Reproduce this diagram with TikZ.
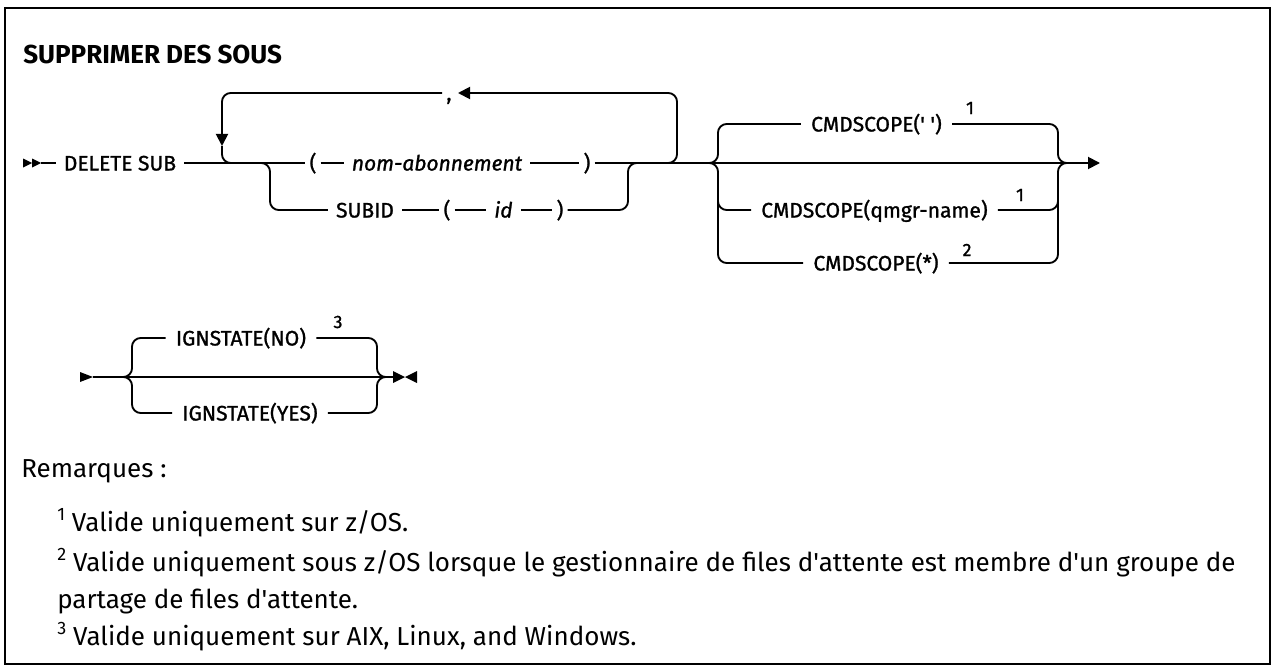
\documentclass[tikz,border=0pt]{standalone}
\usepackage{fontspec}
\newfontfamily\plex{Fira Sans}
\newfontfamily\plexd{Fira Sans}[FakeBold=1.2]
\usetikzlibrary{arrows.meta,calc}
\newcommand{\dgsz}{\plexd\fontsize{15.75pt}{18pt}\selectfont}
\newcommand{\ntsz}{\plex\fontsize{19.5pt}{24pt}\selectfont}
\newcommand{\fnsz}{\plexd\fontsize{13.5pt}{15pt}\selectfont}
\newcommand{\fnum}[1]{\raisebox{0.42em}{\fontsize{13.5pt}{14pt}\selectfont #1}}
\begin{document}
\begin{tikzpicture}[x=0.75pt,y=-0.75pt,
  rail/.style={line width=1.4pt, rounded corners=6.5pt},
  railtip/.style={rail, -{Triangle[length=9pt,width=9pt]}},
  tok/.style={inner xsep=6pt, inner ysep=0pt, text height=11.25pt, text depth=0pt, font=\dgsz},
  par/.style={tok, inner xsep=3pt},
  var/.style={tok, font=\dgsz\itshape},
  opt/.style={tok, inner xsep=7.5pt},
  fn/.style={inner sep=0pt, font=\fnsz},
  note/.style={anchor=base west, inner sep=0pt, font=\ntsz}]
\useasboundingbox (0,0) rectangle (1272,667);
\draw[line width=1.5pt] (5,8) rectangle (1270,664);

\node[anchor=west, inner sep=0pt, font=\plex\bfseries\fontsize{19.5pt}{24pt}\selectfont] (title) at (23,54) {SUPPRIMER DES SOUS};

% ---------- row 1 ----------
\coordinate (s1) at (23,163);
\coordinate (s1e) at (41,163);
\fill (23,158.5) -- (32,163) -- (23,167.5) -- cycle;
\fill (32,158.5) -- (41,163) -- (32,167.5) -- cycle;
\node[tok] (del) at (120,163) {DELETE SUB};
\node[par] (lp1) at (313,163) {(};
\node[var] (nom) at (437,163) {nom-abonnement};
\node[par] (rp1) at (587,163) {)};
\coordinate (e1) at (1100,163);
\draw[rail] (s1e) -- (del.west);
\draw[rail] (del.east) -- (lp1.west);
\draw[rail] (lp1.east) -- (nom.west);
\draw[rail] (nom.east) -- (rp1.west);
\draw[railtip] (rp1.east) -- (e1);

% repeat loop
\coordinate (L0) at (234,163);
\coordinate (L1) at (222,163);
\coordinate (L2) at (222,93);
\coordinate (L3) at (677,93);
\coordinate (L4) at (677,163);
\coordinate (L5) at (665,163);
\coordinate (La) at (222,146);
\coordinate (Lb) at (458,93);
\node[par] (comma) at (449,93) {,};
\draw[railtip] (L5) -- (L4) -- (L3) -- (Lb);
\draw[railtip] (comma.west) -- (L2) -- (La);
\draw[rail] (La) -- (L1) -- (L0);

% SUBID branch
\coordinate (B0) at (260,163);
\coordinate (B1) at (270,163);
\coordinate (B2) at (270,210);
\coordinate (B3) at (628,210);
\coordinate (B4) at (628,163);
\coordinate (B5) at (638,163);
\node[tok] (subid) at (365,210) {SUBID};
\node[par] (lp2) at (447,210) {(};
\node[var] (id) at (503.5,210) {id};
\node[par] (rp2) at (560,210) {)};
\draw[rail] (B0) -- (B1) -- (B2) -- (subid.west);
\draw[rail] (subid.east) -- (lp2.west);
\draw[rail] (lp2.east) -- (id.west);
\draw[rail] (id.east) -- (rp2.west);
\draw[rail] (rp2.east) -- (B3) -- (B4) -- (B5);

% CMDSCOPE group
\coordinate (C0) at (708,163);
\coordinate (C1) at (718,163);
\coordinate (C2) at (718,124);
\coordinate (C3) at (718,263);
\coordinate (Cm0) at (718,195);
\coordinate (Cm1) at (718,210);
\coordinate (D0) at (1068,163);
\coordinate (D1) at (1058,163);
\coordinate (D2) at (1058,124);
\coordinate (D3) at (1058,263);
\coordinate (Dm0) at (1058,195);
\coordinate (Dm1) at (1058,210);
\node[opt] (cs1) at (876.5,124) {CMDSCOPE(' ')};
\node[opt] (cs2) at (874.5,210) {CMDSCOPE(qmgr-name)};
\node[opt] (cs3) at (876,263) {CMDSCOPE(*)};
\node[fn] (f1) at (970,108) {1};
\node[fn] (f2) at (1020,195) {1};
\node[fn] (f3) at (967,250) {2};
\draw[rail] (C0) -- (C1) -- (C2) -- (cs1.west);
\draw[rail] (cs1.east) -- (D2) -- (D1) -- (D0);
\draw[rail] (Cm0) -- (Cm1) -- (cs2.west);
\draw[rail] (cs2.east) -- (Dm1) -- (Dm0);
\draw[rail] (C0) -- (C1) -- (C3) -- (cs3.west);
\draw[rail] (cs3.east) -- (D3) -- (D1) -- (D0);

% ---------- row 2 ----------
\coordinate (s2t) at (93,377);
\coordinate (e2) at (393,377);
\fill (80,372) -- (s2t) -- (80,382) -- cycle;
\fill (393,371) -- (405,377) -- (393,383) -- cycle;
\fill (417,371) -- (405,377) -- (417,383) -- cycle;
\draw[rail] (s2t) -- (e2);
\coordinate (G0) at (122,377);
\coordinate (G1) at (132,377);
\coordinate (G2) at (132,338);
\coordinate (G3) at (132,413);
\coordinate (H0) at (387,377);
\coordinate (H1) at (377,377);
\coordinate (H2) at (377,338);
\coordinate (H3) at (377,413);
\node[opt] (ig1) at (241,338) {IGNSTATE(NO)};
\node[opt] (ig2) at (250,413) {IGNSTATE(YES)};
\node[fn] (f4) at (338,322) {3};
\draw[rail] (G0) -- (G1) -- (G2) -- (ig1.west);
\draw[rail] (ig1.east) -- (H2) -- (H1) -- (H0);
\draw[rail] (G0) -- (G1) -- (G3) -- (ig2.west);
\draw[rail] (ig2.east) -- (H3) -- (H1) -- (H0);

% ---------- notes ----------
\node[note] (rem) at (21,477) {Remarques :};
\node[note] (n1) at (57,531) {\fnum{1} Valide uniquement sur z/OS.};
\node[note] (n2) at (57,571) {\fnum{2} Valide uniquement sous z/OS lorsque le gestionnaire de files d'attente est membre d'un groupe de};
\node[note] (n2b) at (57,608) {partage de files d'attente.};
\node[note] (n3) at (57,645) {\fnum{3} Valide uniquement sur AIX, Linux, and Windows.};
\end{tikzpicture}
\end{document}
